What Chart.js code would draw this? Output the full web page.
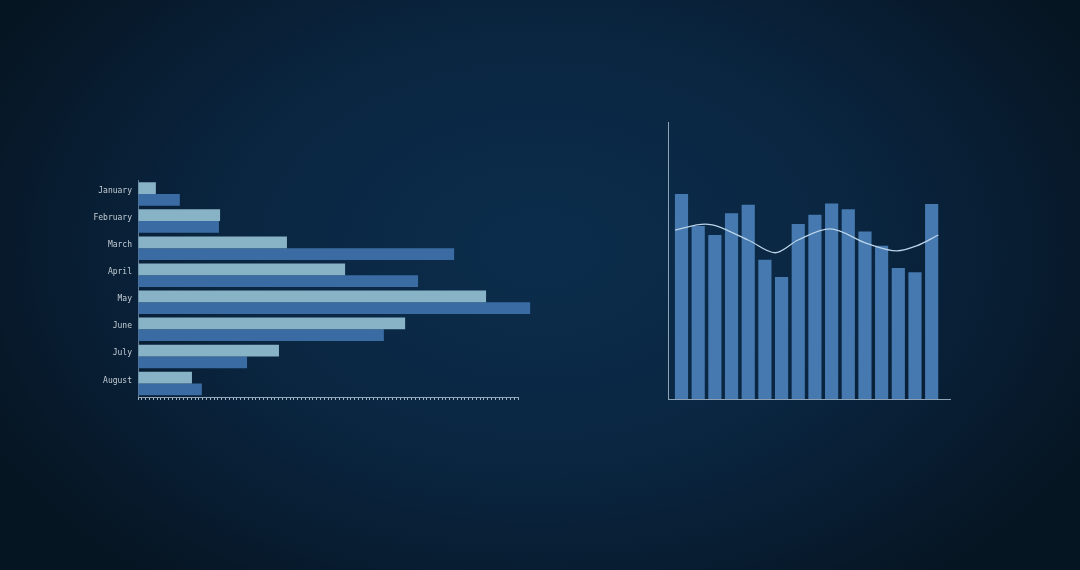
<!DOCTYPE html>
<html>
<head>
<meta charset="utf-8">
<script src="https://cdn.jsdelivr.net/npm/chart.js@4"></script>
<style>
html,body{margin:0;padding:0;width:1080px;height:570px;overflow:hidden;}
body{background:radial-gradient(ellipse 620px 420px at 540px 250px,#0b2d4c 0%,#0a2641 50%,#081c30 80%,#061522 100%);}
canvas{position:absolute;left:0;top:0;}
</style>
</head>
<body>
<canvas id="left" width="1080" height="570"></canvas>
<canvas id="right" width="1080" height="570"></canvas>
<script>
// Left chart data
const months = ['January','February','March','April','May','June','July','August'];
const seriesLight = [4.7, 21.6, 39.2, 54.5, 91.6, 70.3, 37.1, 14.2];
const seriesDark  = [11.0, 21.3, 83.2, 73.7, 103.2, 64.7, 28.7, 16.8];

// Right chart data
const barValues = [74.0, 62.5, 59.2, 67.1, 70.1, 50.3, 44.0, 63.2, 66.5, 70.6, 68.5, 60.5, 55.3, 47.3, 45.8, 70.4];
const lineX = [-0.39, 1.41, 3.99, 5.61, 6.99, 8.9, 11.1, 12.91, 14.1, 15.4];
const lineY = [61.0, 63.1, 57.4, 52.8, 57.4, 61.4, 56.2, 53.5, 55.3, 59.2];

Chart.defaults.animation = false;
Chart.defaults.font.family = '"DejaVu Sans Mono", monospace';

new Chart(document.getElementById('left'), {
  type: 'bar',
  data: {
    labels: months,
    datasets: [
      {data: seriesLight, backgroundColor: '#88b2c6', clip: false},
      {data: seriesDark, backgroundColor: '#3a6ca3', clip: false}
    ]
  },
  options: {
    indexAxis: 'y',
    responsive: false,
    categoryPercentage: 0.87,
    barPercentage: 1.0,
    layout: {padding: {left: 0, top: 180.5, right: 562, bottom: 173}},
    plugins: {legend: {display: false}, tooltip: {enabled: false}},
    scales: {
      y: {
        afterFit: s => { s.width = 138; },
        grid: {display: false, drawTicks: false},
        border: {display: true, color: '#5d7790', width: 1},
        ticks: {color: '#c5ced6', font: {size: 8}, padding: 6, labelOffset: -3}
      },
      x: {
        min: 0, max: 100,
        afterFit: s => { s.height = 0; },
        grid: {display: true, drawOnChartArea: false, drawTicks: true, tickLength: 3, color: '#a3b4c4', lineWidth: 1},
        border: {display: true, color: '#93a6b8', width: 1},
        ticks: {display: false, stepSize: 1, autoSkip: false}
      }
    }
  }
});

new Chart(document.getElementById('right'), {
  type: 'bar',
  data: {
    datasets: [
      {
        type: 'line',
        data: lineX.map((x, i) => ({x: x, y: lineY[i]})),
        borderColor: '#b9d3e8',
        borderWidth: 1.3,
        pointRadius: 0,
        cubicInterpolationMode: 'monotone',
        fill: false
      },
      {
        type: 'bar',
        data: barValues.map((v, i) => ({x: i, y: v})),
        backgroundColor: '#4679b0',
        categoryPercentage: 0.79,
        barPercentage: 1.0
      }
    ]
  },
  options: {
    responsive: false,
    layout: {padding: {left: 668, top: 122, right: 130, bottom: 171}},
    plugins: {legend: {display: false}, tooltip: {enabled: false}},
    scales: {
      x: {
        type: 'linear',
        offset: false,
        bounds: 'data',
        min: -0.81, max: 16.1,
        afterFit: s => { s.height = 0; },
        grid: {display: false, offset: false},
        border: {display: true, color: '#8ea3b6', width: 1},
        ticks: {display: false}
      },
      y: {
        min: 0, max: 100,
        afterFit: s => { s.width = 0; },
        grid: {display: false},
        border: {display: true, color: '#8ea3b6', width: 1},
        ticks: {display: false}
      }
    }
  }
});
</script>
</body>
</html>
